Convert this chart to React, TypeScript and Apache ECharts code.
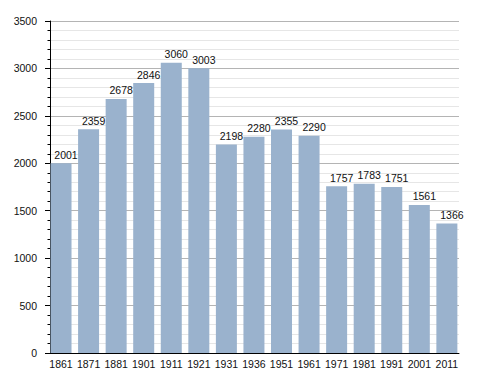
import React, { useEffect, useRef } from "react";
import * as echarts from "echarts";

const years = ["1861", "1871", "1881", "1901", "1911", "1921", "1931", "1936", "1951", "1961", "1971", "1981", "1991", "2001", "2011"];
const population = [2001, 2359, 2678, 2846, 3060, 3003, 2198, 2280, 2355, 2290, 1757, 1783, 1751, 1561, 1366];
const yTicks = [0, 500, 1000, 1500, 2000, 2500, 3000, 3500];

const FONT = "'Liberation Sans', Arial, Helvetica, sans-serif";

export default function App() {
  const ref = useRef<HTMLDivElement>(null);
  useEffect(() => {
    if (!ref.current) return;
    document.body.style.margin = "0";
    const chart = echarts.init(ref.current, undefined, { renderer: "svg" });
    const idx = years.map((_, i) => i);
    chart.setOption({
      animation: false,
      backgroundColor: "#ffffff",
      grid: { left: 50, right: 29, top: 21, bottom: 20 },
      xAxis: {
        type: "value",
        min: -0.4,
        max: 14.44,
        axisLine: { show: true, onZero: false, lineStyle: { color: "#000", width: 1 } },
        axisTick: { show: false },
        splitLine: { show: false },
        axisLabel: {
          customValues: idx,
          formatter: (v: number) => years[Math.round(v)] ?? "",
          color: "#111",
          fontSize: 10.5,
          fontFamily: FONT,
          margin: 5,
        },
      },
      yAxis: {
        type: "value",
        min: 0,
        max: yTicks[yTicks.length - 1],
        interval: 500,
        axisLine: { show: true, onZero: false, lineStyle: { color: "#000", width: 1 } },
        axisTick: { show: true, length: 5, lineStyle: { color: "#000" } },
        minorTick: { show: true, splitNumber: 5, length: 2.5, lineStyle: { color: "#000" } },
        splitLine: { show: true, lineStyle: { color: "#b4b4b4", width: 1 } },
        minorSplitLine: { show: true, lineStyle: { color: "#e6e6e6", width: 1 } },
        axisLabel: {
          color: "#111",
          fontSize: 10.5,
          fontFamily: FONT,
          margin: 13,
          formatter: (v: number) => String(v),
        },
      },
      series: [
        {
          type: "bar",
          data: population.map((v, i) => [i, v]),
          barWidth: 21,
          itemStyle: { color: "#9ab2cd" },
          label: {
            show: true,
            position: "top",
            distance: 3,
            offset: [5, 0],
            color: "#111",
            fontSize: 10.5,
            fontFamily: FONT,
            formatter: (p: any) => String(p.value[1]),
          },
        },
      ],
    });
    return () => chart.dispose();
  }, []);
  return <div ref={ref} style={{ width: 488, height: 373, position: "absolute", left: 0, top: 0 }} />;
}
